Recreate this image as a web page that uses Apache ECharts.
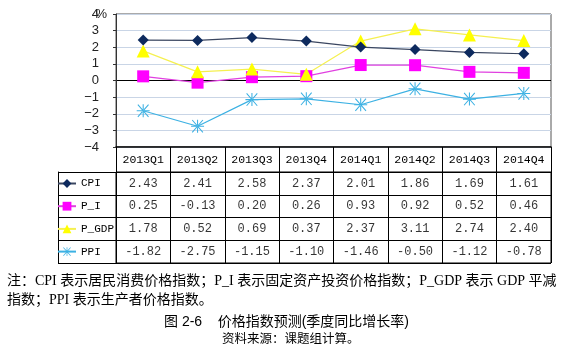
<!DOCTYPE html>
<html><head><meta charset="utf-8">
<script src="https://cdn.jsdelivr.net/npm/echarts@6/dist/echarts.min.js"></script>
<style>html,body{margin:0;padding:0;background:#fff}#c{width:566px;height:355px}</style>
</head><body><div id="c"></div>
<script>
const categories = ['2013Q1','2013Q2','2013Q3','2013Q4','2014Q1','2014Q2','2014Q3','2014Q4'];
const seriesNames = ['CPI','P_I','P_GDP','PPI'];
const cpi   = [2.43, 2.41, 2.58, 2.37, 2.01, 1.86, 1.69, 1.61];
const pI    = [0.25, -0.13, 0.20, 0.26, 0.93, 0.92, 0.52, 0.46];
const pGdp  = [1.78, 0.52, 0.69, 0.37, 2.37, 3.11, 2.74, 2.40];
const ppi   = [-1.82, -2.75, -1.15, -1.10, -1.46, -0.50, -1.12, -0.78];
const yTicks = [-4,-3,-2,-1,0,1,2,3,4];
const noteLine1 = '注：CPI 表示居民消费价格指数；P_I 表示固定资产投资价格指数；P_GDP 表示 GDP 平减';
const noteLine2 = '指数；PPI 表示生产者价格指数。';
const captionText = '图 2-6    价格指数预测(季度同比增长率)';
const sourceText = '资料来源：课题组计算。';

const allSeries = [cpi, pI, pGdp, ppi];
const colors = ['#0d2a5e', '#ff00ff', '#ffff00', '#3cb1e3'];
const lineColors = ['#3a4660', '#e040e0', '#f5f050', '#3cb1e3'];
const symbols = ['diamond', 'rect', 'triangle',
  'path://M4.6,0h0.8v10h-0.8z M0.6,0.5l0.6,-0.5l8.2,9.5l-0.6,0.5z M9.4,0.5l-0.6,-0.5l-8.2,9.5l0.6,0.5z M0,4.6h10v0.8h-10z'];
const symbolSizes = [11, 12, 13, 13];
const mono = '"Liberation Mono", "DejaVu Sans Mono", monospace';
const textFont = '"Liberation Serif", "Noto Sans CJK SC", serif';
const heiFont = '"Liberation Sans", "Noto Sans CJK SC", sans-serif';

const tableData = [];
allSeries.forEach((arr, j) => arr.forEach((v, i) => tableData.push([i, j, v])));

const splitColors = yTicks.map(v => v === 0 ? '#000000' : '#c9d5e6');

const chart = echarts.init(document.getElementById('c'), null, {renderer: 'canvas'});
chart.setOption({
  animation: false,
  backgroundColor: '#ffffff',
  title: [
    {text: noteLine1, left: 7, top: 274, textStyle: {fontFamily: textFont, fontSize: 14, fontWeight: 'normal', color: '#000'}, padding: 0},
    {text: noteLine2, left: 7, top: 293, textStyle: {fontFamily: textFont, fontSize: 14, fontWeight: 'normal', color: '#000'}, padding: 0},
    {text: captionText, left: 164, top: 315, textStyle: {fontFamily: heiFont, fontSize: 14, fontWeight: 'normal', color: '#000'}, padding: 0},
    {text: sourceText, left: 222, top: 333, textStyle: {fontFamily: heiFont, fontSize: 12.5, fontWeight: 'normal', color: '#000'}, padding: 0}
  ],
  legend: {
    orient: 'vertical', left: 57, top: 178, padding: 0,
    itemWidth: 18, itemHeight: 11, itemGap: 11.7,
    data: seriesNames,
    textStyle: {fontFamily: mono, fontSize: 11, color: '#000', lineHeight: 11},
    selectedMode: false
  },
  grid: [
    {left: 116, right: 15, top: 14, height: 133, show: true, borderColor: '#555', borderWidth: 1},
    {left: 116, right: 15, top: 172, height: 91, show: true, borderColor: '#000', borderWidth: 1}
  ],
  xAxis: [
    {type: 'category', gridIndex: 0, data: categories, boundaryGap: true,
     axisLine: {onZero: false, lineStyle: {color: '#000', width: 1.5}},
     axisTick: {show: true, interval: 0, length: 25, lineStyle: {color: '#000'}},
     axisLabel: {margin: 7, fontFamily: mono, fontSize: 11.5, color: '#000', interval: 0},
     splitLine: {show: false}},
    {type: 'category', gridIndex: 1, data: categories, boundaryGap: true,
     axisLine: {show: false}, axisTick: {show: false}, axisLabel: {show: false},
     splitLine: {show: true, interval: 0, lineStyle: {color: '#000'}}}
  ],
  yAxis: [
    {type: 'value', gridIndex: 0, min: -4, max: 4, interval: 1,
     axisLine: {show: true, lineStyle: {color: '#333'}},
     axisTick: {show: true, length: 3, lineStyle: {color: '#333'}},
     axisLabel: {margin: 9, fontFamily: '"Liberation Sans", sans-serif', fontSize: 13, color: '#222',
       formatter: v => v === 4 ? '4{p|%}' : (v < 0 ? '−' + (-v) : String(v)) + '{s|}',
       rich: {p: {width: 8, fontSize: 13, color: '#222', fontFamily: '"Liberation Sans", sans-serif'}, s: {width: 8}}},
     splitLine: {show: true, lineStyle: {color: splitColors, width: 1}}},
    {type: 'category', gridIndex: 1, data: seriesNames, inverse: true, boundaryGap: true,
     axisLine: {show: true, lineStyle: {color: '#000'}},
     axisTick: {show: true, interval: 0, length: 58, lineStyle: {color: '#000'}},
     axisLabel: {show: false},
     splitLine: {show: true, interval: 0, lineStyle: {color: '#000'}}},
    {type: 'category', gridIndex: 1, data: seriesNames, inverse: true, position: 'left', offset: 58,
     axisLine: {show: true, lineStyle: {color: '#000'}},
     axisTick: {show: false}, axisLabel: {show: false}, splitLine: {show: false}}
  ],
  series: allSeries.map((arr, k) => ({
    name: seriesNames[k], type: 'line', xAxisIndex: 0, yAxisIndex: 0,
    data: arr, symbol: symbols[k], symbolSize: symbolSizes[k], symbolKeepAspect: true,
    lineStyle: {color: lineColors[k], width: 1.2},
    itemStyle: {color: colors[k], borderWidth: 0},
    z: k === 0 ? 5 : 3
  })).concat([{
    name: 'table', type: 'scatter', xAxisIndex: 1, yAxisIndex: 1,
    data: tableData, symbolSize: 1, itemStyle: {color: 'rgba(0,0,0,0)'}, silent: true,
    label: {show: true, position: 'inside', fontFamily: mono, fontSize: 12, color: '#000',
      formatter: p => p.value[2].toFixed(2)}
  }])
});
</script></body></html>
